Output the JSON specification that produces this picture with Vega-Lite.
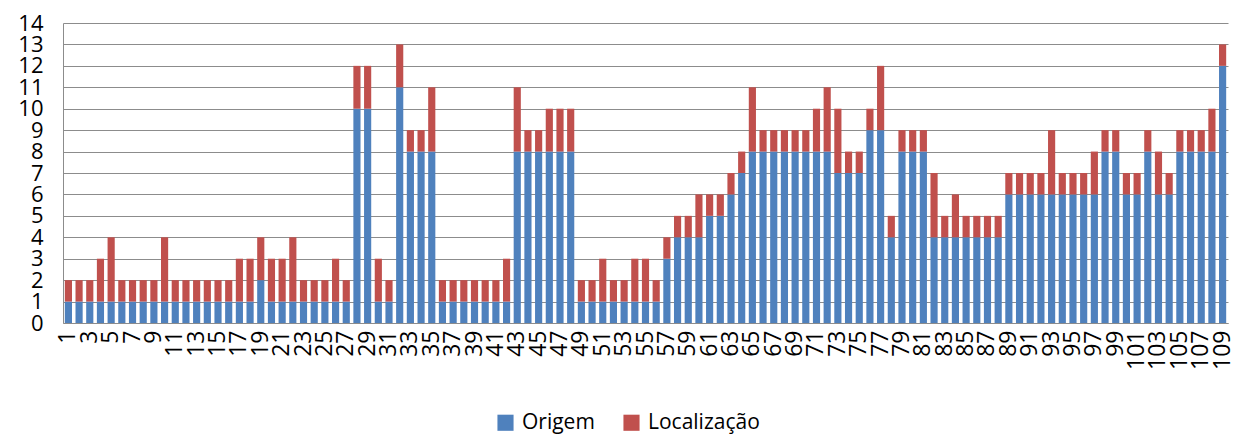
{
  "$schema": "https://vega.github.io/schema/vega-lite/v6.json",
  "autosize": {"type": "none"},
  "width": 1165,
  "height": 300,
  "padding": {"left": 63, "top": 23, "right": 8, "bottom": 112},
  "background": "white",
  "config": {
    "view": {"stroke": null},
    "font": "Open Sans",
    "axis": {"labelFont": "Open Sans", "labelColor": "#000000"}
  },
  "data": {
    "values": [
      {"n":1,"Origem":1,"Localização":1},{"n":2,"Origem":1,"Localização":1},{"n":3,"Origem":1,"Localização":1},
      {"n":4,"Origem":1,"Localização":2},{"n":5,"Origem":1,"Localização":3},{"n":6,"Origem":1,"Localização":1},
      {"n":7,"Origem":1,"Localização":1},{"n":8,"Origem":1,"Localização":1},{"n":9,"Origem":1,"Localização":1},
      {"n":10,"Origem":1,"Localização":3},{"n":11,"Origem":1,"Localização":1},{"n":12,"Origem":1,"Localização":1},
      {"n":13,"Origem":1,"Localização":1},{"n":14,"Origem":1,"Localização":1},{"n":15,"Origem":1,"Localização":1},
      {"n":16,"Origem":1,"Localização":1},{"n":17,"Origem":1,"Localização":2},{"n":18,"Origem":1,"Localização":2},
      {"n":19,"Origem":2,"Localização":2},{"n":20,"Origem":1,"Localização":2},{"n":21,"Origem":1,"Localização":2},
      {"n":22,"Origem":1,"Localização":3},{"n":23,"Origem":1,"Localização":1},{"n":24,"Origem":1,"Localização":1},
      {"n":25,"Origem":1,"Localização":1},{"n":26,"Origem":1,"Localização":2},{"n":27,"Origem":1,"Localização":1},
      {"n":28,"Origem":10,"Localização":2},{"n":29,"Origem":10,"Localização":2},{"n":30,"Origem":1,"Localização":2},
      {"n":31,"Origem":1,"Localização":1},{"n":32,"Origem":11,"Localização":2},{"n":33,"Origem":8,"Localização":1},
      {"n":34,"Origem":8,"Localização":1},{"n":35,"Origem":8,"Localização":3},{"n":36,"Origem":1,"Localização":1},
      {"n":37,"Origem":1,"Localização":1},{"n":38,"Origem":1,"Localização":1},{"n":39,"Origem":1,"Localização":1},
      {"n":40,"Origem":1,"Localização":1},{"n":41,"Origem":1,"Localização":1},{"n":42,"Origem":1,"Localização":2},
      {"n":43,"Origem":8,"Localização":3},{"n":44,"Origem":8,"Localização":1},{"n":45,"Origem":8,"Localização":1},
      {"n":46,"Origem":8,"Localização":2},{"n":47,"Origem":8,"Localização":2},{"n":48,"Origem":8,"Localização":2},
      {"n":49,"Origem":1,"Localização":1},{"n":50,"Origem":1,"Localização":1},{"n":51,"Origem":1,"Localização":2},
      {"n":52,"Origem":1,"Localização":1},{"n":53,"Origem":1,"Localização":1},{"n":54,"Origem":1,"Localização":2},
      {"n":55,"Origem":1,"Localização":2},{"n":56,"Origem":1,"Localização":1},{"n":57,"Origem":3,"Localização":1},
      {"n":58,"Origem":4,"Localização":1},{"n":59,"Origem":4,"Localização":1},{"n":60,"Origem":4,"Localização":2},
      {"n":61,"Origem":5,"Localização":1},{"n":62,"Origem":5,"Localização":1},{"n":63,"Origem":6,"Localização":1},
      {"n":64,"Origem":7,"Localização":1},{"n":65,"Origem":8,"Localização":3},{"n":66,"Origem":8,"Localização":1},
      {"n":67,"Origem":8,"Localização":1},{"n":68,"Origem":8,"Localização":1},{"n":69,"Origem":8,"Localização":1},
      {"n":70,"Origem":8,"Localização":1},{"n":71,"Origem":8,"Localização":2},{"n":72,"Origem":8,"Localização":3},
      {"n":73,"Origem":7,"Localização":3},{"n":74,"Origem":7,"Localização":1},{"n":75,"Origem":7,"Localização":1},
      {"n":76,"Origem":9,"Localização":1},{"n":77,"Origem":9,"Localização":3},{"n":78,"Origem":4,"Localização":1},
      {"n":79,"Origem":8,"Localização":1},{"n":80,"Origem":8,"Localização":1},{"n":81,"Origem":8,"Localização":1},
      {"n":82,"Origem":4,"Localização":3},{"n":83,"Origem":4,"Localização":1},{"n":84,"Origem":4,"Localização":2},
      {"n":85,"Origem":4,"Localização":1},{"n":86,"Origem":4,"Localização":1},{"n":87,"Origem":4,"Localização":1},
      {"n":88,"Origem":4,"Localização":1},{"n":89,"Origem":6,"Localização":1},{"n":90,"Origem":6,"Localização":1},
      {"n":91,"Origem":6,"Localização":1},{"n":92,"Origem":6,"Localização":1},{"n":93,"Origem":6,"Localização":3},
      {"n":94,"Origem":6,"Localização":1},{"n":95,"Origem":6,"Localização":1},{"n":96,"Origem":6,"Localização":1},
      {"n":97,"Origem":6,"Localização":2},{"n":98,"Origem":8,"Localização":1},{"n":99,"Origem":8,"Localização":1},
      {"n":100,"Origem":6,"Localização":1},{"n":101,"Origem":6,"Localização":1},{"n":102,"Origem":8,"Localização":1},
      {"n":103,"Origem":6,"Localização":2},{"n":104,"Origem":6,"Localização":1},{"n":105,"Origem":8,"Localização":1},
      {"n":106,"Origem":8,"Localização":1},{"n":107,"Origem":8,"Localização":1},{"n":108,"Origem":8,"Localização":2},
      {"n":109,"Origem":12,"Localização":1}
    ]
  },
  "transform": [{"fold": ["Origem", "Localização"], "as": ["serie", "valor"]}],
  "mark": {"type": "bar"},
  "encoding": {
    "x": {
      "field": "n",
      "type": "ordinal",
      "sort": "ascending",
      "scale": {"paddingInner": 0.33, "paddingOuter": 0.17},
      "axis": {
        "title": null,
        "labelAngle": 270,
        "labelFontSize": 23,
        "labelPadding": 7,
        "labelOverlap": false,
        "labelExpr": "datum.value % 2 == 1 ? datum.label : ''",
        "ticks": false,
        "grid": false,
        "domainColor": "#8c8c8c",
        "domainWidth": 1
      }
    },
    "y": {
      "field": "valor",
      "type": "quantitative",
      "stack": "zero",
      "scale": {"domain": [0, 14], "nice": false},
      "axis": {
        "title": null,
        "values": [0,1,2,3,4,5,6,7,8,9,10,11,12,13,14],
        "labelFontSize": 22,
        "labelPadding": 20,
        "labelOverlap": false,
        "labelBound": false,
        "labelFlush": false,
        "ticks": false,
        "gridColor": "#8c8c8c",
        "gridWidth": 1,
        "domainColor": "#8c8c8c",
        "domainWidth": 1
      }
    },
    "color": {
      "field": "serie",
      "type": "nominal",
      "scale": {"domain": ["Origem", "Localização"], "range": ["#4F81BD", "#C0504D"]},
      "legend": {
        "title": null,
        "orient": "none",
        "direction": "horizontal",
        "legendX": 432,
        "legendY": 389,
        "symbolType": "square",
        "symbolSize": 260,
        "symbolStrokeWidth": 0,
        "labelFontSize": 21,
        "labelColor": "#000000",
        "labelFont": "Open Sans",
        "columnPadding": 26,
        "labelOffset": 6
      }
    },
    "order": {"field": "serie", "sort": "descending"}
  }
}
